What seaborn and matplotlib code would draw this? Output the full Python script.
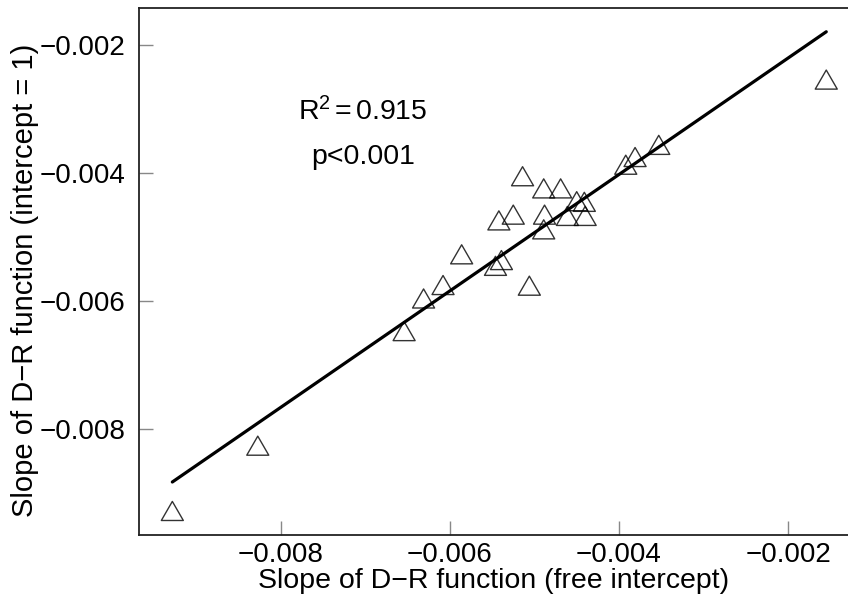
import numpy as np
import pandas as pd
import matplotlib
matplotlib.use("Agg")
import matplotlib.pyplot as plt
from matplotlib.ticker import FuncFormatter
import seaborn as sns

# Data
slope_free = [-0.00928, -0.00827, -0.00654, -0.00631, -0.00608, -0.00586,
              -0.00546, -0.00539, -0.00506, -0.00542, -0.00525, -0.00514,
              -0.00489, -0.00469, -0.00488, -0.00489, -0.00461, -0.00450,
              -0.00441, -0.00440, -0.00392, -0.00381, -0.00353, -0.00155]
slope_fixed = [-0.00933, -0.00831, -0.00652, -0.00601, -0.00580, -0.00532,
               -0.00550, -0.00541, -0.00581, -0.00479, -0.00470, -0.00410,
               -0.00429, -0.00429, -0.00470, -0.00493, -0.00472, -0.00449,
               -0.00450, -0.00472, -0.00392, -0.00380, -0.00361, -0.00259]
x_ticks = [-0.008, -0.006, -0.004, -0.002]
y_ticks = [-0.008, -0.006, -0.004, -0.002]
x_label = "Slope of D\u2212R function (free intercept)"
y_label = "Slope of D\u2212R function (intercept = 1)"
annot_r2 = r"R$^{2}$$\,$=$\,$0.915"
annot_p = "p<0.001"

df = pd.DataFrame({"free": slope_free, "fixed": slope_fixed})

sns.set_style("white")
plt.rcParams["font.family"] = ["Liberation Sans", "DejaVu Sans"]
plt.rcParams["mathtext.fontset"] = "custom"
plt.rcParams["mathtext.rm"] = "Liberation Sans"
plt.rcParams["mathtext.it"] = "Liberation Sans"
plt.rcParams["text.color"] = "black"
plt.rcParams["axes.labelcolor"] = "black"

fig = plt.figure(figsize=(8.48, 6.02), dpi=100)
ax = fig.add_axes([139 / 848, 1 - 535 / 602, 1 - 139 / 848, (535 - 8) / 602])

sns.regplot(data=df, x="free", y="fixed", ax=ax, ci=None, marker=(3, 0, 0),
            scatter_kws=dict(s=335, facecolors="none", edgecolors="black",
                             linewidths=1.0),
            line_kws=dict(color="black", lw=2.3))

ax.set_xlim(-0.009674, -0.001293)
ax.set_ylim(-0.009656, -0.001422)
ax.set_xticks(x_ticks)
ax.set_yticks(y_ticks)
fmt = FuncFormatter(lambda v, p: f"{v:.3f}".replace("-", "\u2212"))
ax.xaxis.set_major_formatter(fmt)
ax.yaxis.set_major_formatter(fmt)
ax.tick_params(axis="both", direction="in", length=10, width=1, color="#888888",
               labelsize=20, labelcolor="black", bottom=True, left=True)
ax.tick_params(axis="x", pad=5)
ax.tick_params(axis="y", pad=10)

for s in ["left", "top", "bottom"]:
    ax.spines[s].set_color("#222222")
    ax.spines[s].set_linewidth(1.3)
ax.spines["right"].set_visible(False)

ax.set_xlabel(x_label, fontsize=20.5, labelpad=0, color="black")
ax.set_ylabel("")
fig.text(25 / 848, 1 - 280 / 602, y_label, rotation=90, ha="center",
         va="center", fontsize=21, color="black")

ax.annotate(annot_r2, xy=(363, 602 - 112), xycoords="figure pixels",
            ha="center", va="center", fontsize=20.5, color="black")
ax.annotate(annot_p, xy=(363, 602 - 157), xycoords="figure pixels",
            ha="center", va="center", fontsize=20.5, color="black")

fig.savefig("out.png", dpi=100)
